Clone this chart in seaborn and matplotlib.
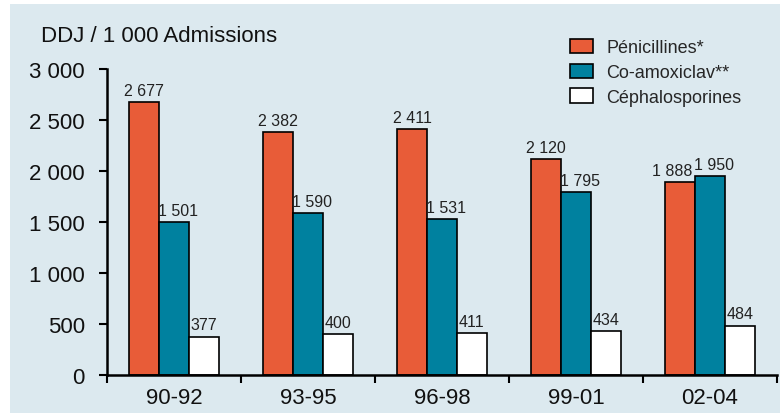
import pandas as pd
import numpy as np
import matplotlib.pyplot as plt
import seaborn as sns
from matplotlib.patches import Rectangle

periods = ["90-92", "93-95", "96-98", "99-01", "02-04"]
penicillines = [2677, 2382, 2411, 2120, 1888]
co_amoxiclav = [1501, 1590, 1531, 1795, 1950]
cephalosporines = [377, 400, 411, 434, 484]
series_names = ["Pénicillines*", "Co-amoxiclav**", "Céphalosporines"]
y_ticks = [0, 500, 1000, 1500, 2000, 2500, 3000]


def fmt(v):
    return f"{int(v):,}".replace(",", " ")


def main():
    df = pd.DataFrame({
        "period": periods * 3,
        "value": penicillines + co_amoxiclav + cephalosporines,
        "type": [series_names[0]] * 5 + [series_names[1]] * 5 + [series_names[2]] * 5,
    })

    sns.set_theme(style="white")
    plt.rcParams["font.family"] = ["Liberation Sans", "DejaVu Sans"]

    bg = "#dce9ef"
    colors = ["#e85c38", "#00819f", "#ffffff"]

    fig = plt.figure(figsize=(7.8, 4.14), dpi=100, facecolor="white")
    fig.patches.append(Rectangle((10 / 780, 0), 1 - 10 / 780, 1 - 5 / 414,
                                 transform=fig.transFigure, facecolor=bg,
                                 edgecolor="none", zorder=-10))
    ax = fig.add_axes([107 / 780, 1 - 376 / 414, 670 / 780, (376 - 70) / 414])
    ax.set_facecolor("none")

    sns.barplot(data=df, x="period", y="value", hue="type", order=periods,
                hue_order=series_names, palette=colors, width=0.67,
                saturation=1, edgecolor="black", linewidth=1.2, ax=ax)

    # bar values; teal ones sit a little right, last orange one nudged left
    for k, cont in enumerate(ax.containers):
        anns = ax.bar_label(cont, labels=[fmt(b.get_height()) for b in cont],
                            padding=3, fontsize=11.5,
                            family=["Liberation Sans", "DejaVu Sans"],
                            color="#222222")
        for i, ann in enumerate(anns):
            dx = 0
            if k == 1:
                dx = 3
            if k == 0 and i == len(anns) - 1:
                dx = -6
            ann.xyann = (dx, 3)

    ax.set_xlim(-0.5, 4.5)
    ax.set_ylim(0, 3000)
    ax.set_yticks(y_ticks)
    ax.set_yticklabels([fmt(v) for v in y_ticks], fontsize=16, color="#111111")
    ax.set_xticklabels(periods, fontsize=16, color="#111111")
    ax.set_xlabel("")
    ax.set_ylabel("")

    ax.set_xticks(np.arange(-0.5, 5.0, 1.0), minor=True)
    ax.tick_params(axis="x", which="major", length=0, pad=9)
    ax.tick_params(axis="x", which="minor", length=6, width=1.5, direction="out",
                   color="black", bottom=True)
    ax.tick_params(axis="y", which="major", length=6, width=1.5, direction="out",
                   color="black", pad=10, left=True)

    for side in ["top", "right"]:
        ax.spines[side].set_visible(False)
    for side in ["left", "bottom"]:
        ax.spines[side].set_color("black")
        ax.spines[side].set_linewidth(1.8)

    ax.legend(loc="upper left", bbox_to_anchor=(570 / 780, 1 - 40 / 414),
              bbox_transform=fig.transFigure, frameon=False,
              prop={"family": ["Liberation Sans", "DejaVu Sans"], "size": 13},
              handlelength=1.3, handleheight=0.85, handletextpad=0.7,
              labelspacing=0.4, borderpad=0, borderaxespad=0)

    fig.text(41 / 780, 1 - 42 / 414, "DDJ / 1 000 Admissions", fontsize=16,
             va="baseline", ha="left", color="#111111")

    fig.savefig("out.png", dpi=100, facecolor="white")


if __name__ == "__main__":
    main()
